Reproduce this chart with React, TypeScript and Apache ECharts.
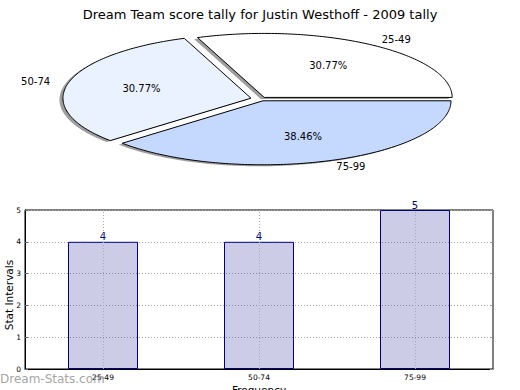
import React, { useEffect, useRef } from "react";
import * as echarts from "echarts";

const titleText = "Dream Team score tally for Justin Westhoff - 2009 tally";
const pieLabels = ["25-49", "50-74", "75-99"];
const pieValues = [4, 4, 5];
const pieColors = ["#ffffff", "#ebf2ff", "#c5d9ff"];
const pieExplode = [0.03, 0.055, 0.03];

const barCategories = ["25-49", "50-74", "75-99"];
const barValues = [4, 4, 5];
const yMin = 0;
const yMax = 5;
const yInterval = 1;

const FONT = "DejaVu Sans";

export default function App() {
  const ref = useRef<HTMLDivElement>(null);
  useEffect(() => {
    if (!ref.current) return;
    const chart = echarts.init(ref.current, null, { renderer: "svg" });
    const total = pieValues.reduce((a, b) => a + b, 0);
    const cx = 261;
    const cy = 99;
    const rx = 188;
    const ry = 64;

    const renderPie = (params: any, api: any) => {
      const i = params.dataIndex;
      const v = api.value(0);
      let before = 0;
      for (let k = 0; k < i; k++) before += pieValues[k];
      const a0 = (before / total) * Math.PI * 2;
      const a1 = ((before + v) / total) * Math.PI * 2;
      const mid = (a0 + a1) / 2;
      const ox = pieExplode[i] * rx * Math.cos(mid);
      const oy = -pieExplode[i] * ry * Math.sin(mid);
      const pts: number[][] = [[cx + ox, cy + oy]];
      const steps = Math.max(8, Math.ceil(((a1 - a0) * 180) / Math.PI));
      for (let s = 0; s <= steps; s++) {
        const a = a0 + ((a1 - a0) * s) / steps;
        pts.push([cx + ox + rx * Math.cos(a), cy + oy - ry * Math.sin(a)]);
      }
      const shadowPts = pts.map((p) => [p[0] - 3.5, p[1] + 1.5]);
      const lx = cx + ox + 1.1 * rx * Math.cos(mid);
      const ly = cy + oy - 1.1 * ry * Math.sin(mid);
      const px = cx + ox + 0.6 * rx * Math.cos(mid);
      const py = cy + oy - 0.6 * ry * Math.sin(mid);
      return {
        type: "group",
        children: [
          {
            type: "polygon",
            z2: 1,
            shape: { points: shadowPts },
            style: { fill: "rgba(0,0,0,0.38)", stroke: "none" },
          },
          {
            type: "polygon",
            z2: 10,
            shape: { points: pts },
            style: { fill: pieColors[i], stroke: "#000", lineWidth: 1 },
          },
          {
            type: "text",
            z2: 20,
            x: lx,
            y: ly,
            style: {
              text: pieLabels[i],
              fontSize: 10,
              fontFamily: FONT,
              fill: "#000",
              align: Math.cos(mid) >= 0 ? "left" : "right",
              verticalAlign: "middle",
            },
          },
          {
            type: "text",
            z2: 20,
            x: px,
            y: py,
            style: {
              text: ((v / total) * 100).toFixed(2) + "%",
              fontSize: 10,
              fontFamily: FONT,
              fill: "#000",
              align: "center",
              verticalAlign: "middle",
            },
          },
        ],
      };
    };

    chart.setOption({
      animation: false,
      backgroundColor: "#ffffff",
      textStyle: { fontFamily: FONT },
      title: {
        text: titleText,
        left: "center",
        top: 3,
        textStyle: { fontSize: 13, fontWeight: "normal", color: "#000", fontFamily: FONT },
      },
      grid: {
        left: 25,
        right: 27,
        top: 210,
        bottom: 21,
        outerBoundsMode: "none",
        containLabel: false,
        show: true,
        borderColor: "#000",
        borderWidth: 1,
        backgroundColor: "transparent",
      },
      xAxis: {
        type: "category",
        data: barCategories,
        name: "Frequency",
        nameLocation: "middle",
        nameGap: 15,
        nameMoveOverlap: false,
        nameTextStyle: { fontSize: 10.5, color: "#000", fontFamily: FONT },
        axisLine: { lineStyle: { color: "#000", width: 1 } },
        axisTick: { show: false },
        axisLabel: { fontSize: 7.5, color: "#000", margin: 4, fontFamily: FONT },
        splitLine: { show: false },
      },
      yAxis: [
        {
          type: "value",
          min: yMin,
          max: yMax,
          interval: yInterval,
          name: "Stat Intervals",
          nameLocation: "middle",
          nameGap: 11,
          nameMoveOverlap: false,
          nameTextStyle: { fontSize: 10.5, color: "#000", fontFamily: FONT, padding: [0, 11, 0, 0] },
          axisLine: { show: true, lineStyle: { color: "#000", width: 1 } },
          axisTick: { show: true, inside: true, length: 3, lineStyle: { color: "#666" } },
          axisLabel: { fontSize: 7.5, color: "#000", margin: 4, fontFamily: FONT },
          splitLine: { show: true, lineStyle: { color: "#a8a8a8", type: [1, 2], width: 1 } },
        },
        {
          type: "value",
          min: yMin,
          max: yMax,
          interval: yInterval,
          position: "right",
          axisLine: { show: false },
          axisTick: { show: true, inside: true, length: 3, lineStyle: { color: "#999" } },
          axisLabel: { show: false },
          splitLine: { show: false },
        },
      ],
      graphic: [
        {
          type: "text",
          left: 0,
          top: 373,
          z: 100,
          style: {
            text: "Dream-Stats.com",
            fontSize: 12,
            fontFamily: FONT,
            fill: "rgba(140,140,140,0.8)",
          },
        },
      ],
      series: [
        {
          type: "custom",
          coordinateSystem: "none",
          data: pieValues,
          renderItem: renderPie,
          silent: true,
        },
        {
          type: "bar",
          data: barValues,
          barWidth: 70,
          xAxisIndex: 0,
          yAxisIndex: 0,
          itemStyle: { color: "rgba(0,0,128,0.2)", borderColor: "#000080", borderWidth: 1 },
          label: {
            show: true,
            position: "top",
            distance: 0,
            color: "#000080",
            fontSize: 10,
            fontFamily: FONT,
          },
          markLine: {
            silent: true,
            symbol: "none",
            label: { show: false },
            lineStyle: { color: "#a8a8a8", type: [1, 2], width: 1 },
            data: barCategories.map((c) => ({ xAxis: c })),
          },
        },
      ],
    });
    return () => chart.dispose();
  }, []);
  return (
    <div
      ref={ref}
      style={{ position: "fixed", left: 0, top: 0, width: 520, height: 390 }}
    />
  );
}
